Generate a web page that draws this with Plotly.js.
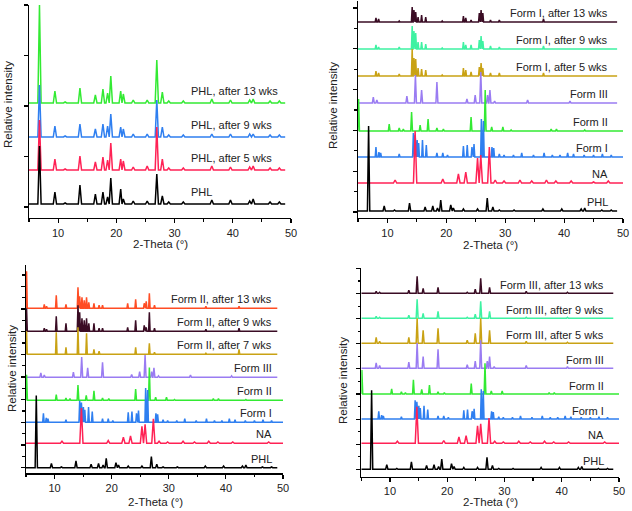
<!DOCTYPE html>
<html><head><meta charset="utf-8">
<script src="https://cdn.plot.ly/plotly-3.0.1.min.js"></script>
<style>html,body{margin:0;padding:0;background:#fff}#chart{width:632px;height:511px}</style>
</head><body><div id="chart"></div>
<script>
// ---------- DATA (peak positions in 2-Theta degrees, peak heights) ----------
// Panel (a): PHL stability
const phlPeaksA   = [6.8, 9.45, 11.2, 13.75, 16.4, 17.7, 18.5, 19.05, 20.75, 21.2, 22.9, 25.3, 26.95, 27.9, 29.0, 31.5, 36.4, 39.6, 42.9, 43.5, 46.4, 48.0];
const phlA_0wk    = [58, 12, 1, 19, 10, 12, 7, 26, 15, 5, 3, 3, 30, 8, 2, 2, 4, 4, 3, 5, 2, 2];
const phlA_5wk    = [50, 11, 1, 14, 8, 13, 10, 27, 11, 9, 3, 4, 43, 11, 2, 2, 4, 3, 3, 4, 2, 2];
const phlA_9wk    = [52, 11, 1, 13, 8, 13, 11, 23, 10, 8, 3, 3, 37, 10, 2, 2, 3, 3, 3, 3, 2, 2];
const phlA_13wk   = [98, 12, 1, 15, 8, 14, 10, 27, 12, 9, 3, 3, 43, 11, 2, 2, 4, 3, 3, 4, 2, 2];
const labelsA     = ["PHL", "PHL, after 5 wks", "PHL, after 9 wks", "PHL, after 13 wks"];

// Reference patterns (shared by panels b, c, d)
const phlPeaks    = [6.8, 9.45, 11.2, 13.75, 16.4, 17.7, 18.5, 19.05, 20.75, 21.2, 22.9, 25.3, 26.95, 27.9, 29.0, 31.5, 36.4, 39.6, 42.9, 43.5, 46.4, 48.0];
const phlHeights  = [85, 5, 1, 8, 4, 5, 3, 11, 6, 3, 2, 2, 13, 4, 1, 1, 2, 2, 2, 3, 1, 1];
const naPeaks     = [11.3, 14.7, 19.4, 22.05, 23.3, 25.3, 25.85, 27.3, 28.3, 29.8, 32.5, 34.5, 37.0, 38.6, 41.2, 45.0, 47.5];
const naHeights   = [3, 52, 4, 9, 11, 25, 28, 36, 3, 2, 3, 2, 3, 2, 2, 1, 2];
const f1Peaks     = [8.05, 8.55, 8.85, 12.0, 14.4, 14.7, 15.05, 15.3, 15.95, 16.6, 18.4, 19.4, 20.2, 22.9, 23.55, 24.35, 24.7, 25.95, 26.3, 27.75, 28.05, 29.0, 29.8, 31.4, 32.8, 34.8, 36.6, 38.0, 39.3, 40.6, 41.6, 43.4, 45.0, 46.5, 48.0];
const f1Heights   = [10, 5, 4, 3, 24, 22, 17, 14, 17, 12, 4, 4, 2, 11, 12, 10, 13, 38, 36, 10, 9, 3, 2, 2, 4, 2, 4, 2, 2, 4, 3, 2, 2, 3, 2];
const f2Peaks     = [5.1, 10.3, 12.0, 12.7, 14.1, 15.55, 16.9, 18.4, 19.5, 24.2, 26.6, 27.7, 29.6, 31.0, 37.8, 38.7, 43.5];
const f2Heights   = [32, 7, 3, 2, 19, 6, 12, 3, 2, 14, 41, 4, 4, 1, 2, 2, 1];
const f3Peaks     = [7.6, 8.2, 13.3, 14.75, 15.8, 18.4, 23.5, 24.9, 25.85, 27.0, 27.4, 28.2, 33.8, 41.0];
const f3Heights   = [6, 3, 7, 28, 13, 21, 4, 8, 31, 8, 13, 2, 3, 2];
const refLabels   = ["PHL", "NA", "Form I", "Form II", "Form III"];

// Panel (b): Form I ageing
const agedF1Peaks = [8.05, 8.5, 12.0, 14.2, 14.5, 14.8, 15.2, 15.8, 16.5, 19.3, 22.9, 23.3, 24.2, 25.6, 25.9, 26.2, 27.5, 29.0, 36.5];
const agedF1_5wk  = [5, 3, 2, 27, 18, 17, 8, 7, 6, 1, 8, 6, 4, 9, 13, 8, 3, 3, 3];
const agedF1_9wk  = [4, 2, 2, 23, 18, 16, 7, 7, 5, 1, 7, 4, 4, 9, 13, 8, 3, 2, 3];
const agedF1_13wk = [4, 3, 1, 15, 12, 10, 5, 7, 5, 1, 6, 4, 2, 9, 12, 9, 2, 2, 3];
const labelsB     = ["Form I, after 5 wks", "Form I, after 9 wks", "Form I, after 13 wks"];

// Panel (c): Form II ageing
const agedF2Peaks = [5.1, 8.2, 8.6, 10.3, 12.0, 14.1, 14.4, 14.8, 15.2, 15.6, 16.0, 16.9, 17.8, 18.4, 22.8, 24.2, 25.7, 26.05, 26.6, 27.5, 36.5, 42.3];
const agedF2_7wk  = [23, 0, 0, 22, 7, 27, 0, 0, 0, 21, 0, 5, 3, 0, 0, 7, 0, 0, 11, 2, 1, 5];
const agedF2_9wk  = [23, 3, 2, 15, 8, 26, 19, 13, 11, 13, 8, 8, 3, 3, 4, 11, 6, 4, 19, 3, 2, 3];
const agedF2_13wk = [37, 4, 2, 13, 4, 21, 12, 11, 8, 11, 6, 5, 3, 3, 5, 9, 5, 7, 15, 3, 2, 2];
const labelsC     = ["Form II, after 7 wks", "Form II, after 9 wks", "Form II, after 13 wks"];

// Panel (d): Form III ageing
const agedF3Peaks = [7.6, 8.2, 13.3, 14.75, 15.8, 18.4, 23.5, 24.9, 25.85, 27.4, 33.8, 41.0];
const agedF3_5wk  = [6, 2, 6, 25, 13, 15, 3, 10, 25, 13, 2, 1];
const agedF3_9wk  = [2, 1, 3, 19, 5, 7, 1, 4, 17, 7, 1, 1];
const agedF3_13wk = [2, 1, 3, 17, 5, 6, 1, 4, 15, 6, 2, 1];
const labelsD     = ["Form III, after 5 wks", "Form III, after 9 wks", "Form III, after 13 wks"];

// ---------- STYLE / LAYOUT CONFIG ----------
const C = {black:'#000000', red:'#ff2255', blue:'#2f7ff0', green:'#33ea33', purple:'#9a7cf2',
           gold:'#c9a214', mint:'#3ef2a2', maroon:'#3a0c24', orange:'#ff4d24'};
const FONT = 'Liberation Sans, Arial, sans-serif';
const LW = 1.5;

function buildXY(pos, h, scale, halfW, x0, x1, base) {
  const idx = [];
  for (let i = 0; i < pos.length; i++) if (h[i]) idx.push(i);
  const xs = [Math.min(x0, pos[idx[0]] - halfW)], ys = [base];
  for (let k = 0; k < idx.length; k++) {
    const i = idx[k];
    let l = pos[i] - halfW, r = pos[i] + halfW;
    if (k > 0) l = Math.max(l, (pos[idx[k - 1]] + pos[i]) / 2);
    if (k < idx.length - 1) r = Math.min(r, (pos[i] + pos[idx[k + 1]]) / 2);
    xs.push(l, pos[i], r);
    ys.push(base, base + h[i] * scale, base);
  }
  xs.push(x1); ys.push(base);
  return {x: xs, y: ys};
}

const traces = [];
const annotations = [];
function addSeries(ax, pos, h, scale, halfW, x1, base, color, label, labelX, labelDy, align) {
  const d = buildXY(pos, h, scale, halfW, 5, x1, base);
  traces.push({type:'scatter', mode:'lines', x:d.x, y:d.y, xaxis:'x'+ax, yaxis:'y'+ax,
               line:{color:color, width:LW}, hoverinfo:'skip', showlegend:false});
  annotations.push({xref:'x'+ax, yref:'y'+ax, x:labelX, y:base + labelDy, text:label, showarrow:false,
                    xanchor:align, yanchor:'middle', font:{family:FONT, size:11, color:'#222'}});
}

// Panel a (axis 1) - drawn top series first so lower series are on top
const baseA = [14, 48, 81, 115];
const seriesA = [phlA_0wk, phlA_5wk, phlA_9wk, phlA_13wk];
const colA = [C.black, C.red, C.blue, C.green];
for (let i = 3; i >= 0; i--) addSeries('', phlPeaksA, seriesA[i], 1, 0.28, 49, baseA[i], colA[i], labelsA[i], 32.5, 12.5, 'left');

// reference patterns
const refPos = [phlPeaks, naPeaks, f1Peaks, f2Peaks, f3Peaks];
const refH   = [phlHeights, naHeights, f1Heights, f2Heights, f3Heights];
const refCol = [C.black, C.red, C.blue, C.green, C.purple];
const refW   = [0.2, 0.28, 0.13, 0.15, 0.17];
const refEnd = [49, 50, 50, 50, 49];

function addPanel(ax, bases, refScale, agedPos, agedList, agedCols, agedLabels, labelX, labelDy, agedW) {
  for (let i = agedList.length - 1; i >= 0; i--)
    addSeries(ax, agedPos, agedList[i], 1, agedW, 49, bases[5 + i], agedCols[i], agedLabels[i], labelX, labelDy, 'right');
  for (let i = 4; i >= 0; i--)
    addSeries(ax, refPos[i], refH[i], refScale[i], refW[i], refEnd[i], bases[i], refCol[i], refLabels[i], labelX, labelDy, 'right');
}
addPanel('2', [7, 35, 61, 87, 115, 142, 169, 196], [1, 1, 1, 1, 1],
         agedF1Peaks, [agedF1_5wk, agedF1_9wk, agedF1_13wk], [C.gold, C.mint, C.maroon], labelsB, 47.8, 9.5, 0.13);
addPanel('3', [5.6, 30, 51, 73, 96, 119, 142, 165], [0.85, 0.68, 0.9, 0.8, 0.72],
         agedF2Peaks, [agedF2_7wk, agedF2_9wk, agedF2_13wk], [C.gold, C.maroon, C.orange], labelsC, 48.5, 9, 0.13);
addPanel('4', [7.4, 33.4, 57.7, 82.7, 108.4, 133.4, 158.4, 183.4], [0.93, 0.7, 0.78, 0.75, 0.9],
         agedF3Peaks, [agedF3_5wk, agedF3_9wk, agedF3_13wk], [C.gold, C.mint, C.maroon], labelsD, 47.8, 8, 0.17);

// axes
const W = 632, H = 511;
function xax(x0, x1, yAnchor) {
  return {domain:[x0 / W, x1 / W], range:[5, 50], anchor:yAnchor, showline:true, linecolor:'#000', linewidth:1.3,
          ticks:'outside', ticklen:4, tickwidth:1.2, tickcolor:'#000', tickmode:'linear', tick0:0, dtick:10,
          minor:{ticks:'outside', ticklen:2.5, dtick:5, tick0:0, tickcolor:'#000'},
          showgrid:false, zeroline:false, tickfont:{family:FONT, size:11, color:'#222'}, fixedrange:true};
}
function yax(top, bottom, range, tick0, dtick, minorDtick, xAnchor) {
  const a = {domain:[(H - bottom) / H, (H - top) / H], range:range, anchor:xAnchor, showline:true, linecolor:'#000',
          linewidth:1.3, ticks:'outside', ticklen:4, tickwidth:1.2, tickcolor:'#000', tickmode:'linear',
          tick0:tick0, dtick:dtick, showticklabels:false, showgrid:false, zeroline:false, fixedrange:true};
  if (minorDtick) a.minor = {ticks:'outside', ticklen:2.5, dtick:minorDtick, tick0:tick0, tickcolor:'#000'};
  return a;
}
const layout = {
  width: W, height: H, margin:{l:0, r:0, t:0, b:0}, paper_bgcolor:'#fff', plot_bgcolor:'#fff',
  showlegend:false, font:{family:FONT, size:11, color:'#222'},
  xaxis:  xax(29, 291, 'y'),     yaxis:  yax(5, 218, [0, 213], 11, 50.5, 0, 'x'),
  xaxis2: xax(358, 623, 'y2'),   yaxis2: yax(1, 218, [0, 217], 6, 40.8, 20.4, 'x2'),
  xaxis3: xax(26, 283, 'y3'),    yaxis3: yax(265, 473.3, [0, 208.3], 5.6, 22.67, 11.33, 'x3'),
  xaxis4: xax(361.3, 619, 'y4'), yaxis4: yax(268, 476.7, [0, 208.7], 7.4, 25.1, 12.55, 'x4'),
  annotations: annotations
};
// axis titles
const tf = {family:FONT, size:11.5, color:'#222'};
[[160, 244], [490, 245], [155, 502], [490, 502]].forEach(p =>
  layout.annotations.push({xref:'paper', yref:'paper', x:p[0] / W, y:(H - p[1]) / H, text:'2-Theta (°)', showarrow:false,
                           xanchor:'center', yanchor:'middle', font:tf}));
[[8, 105], [333, 106], [12, 369], [343, 381]].forEach(p =>
  layout.annotations.push({xref:'paper', yref:'paper', x:p[0] / W, y:(H - p[1]) / H, text:'Relative intensity', showarrow:false,
                           textangle:-90, xanchor:'center', yanchor:'middle', font:tf}));

Plotly.newPlot('chart', traces, layout, {staticPlot:true, displayModeBar:false});
</script></body></html>
